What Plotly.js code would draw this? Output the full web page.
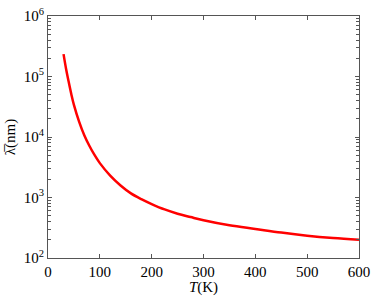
<!DOCTYPE html>
<html><head><meta charset="utf-8">
<script src="https://cdn.plot.ly/plotly-3.0.1.min.js"></script>
<style>html,body{margin:0;padding:0;background:#fff}#c{width:374px;height:296px}</style>
</head><body><div id="c"></div>
<script>
const temperature = [30, 35, 40, 45, 50, 60, 70, 80, 90, 100, 120, 140, 160, 180, 200, 225, 250, 275, 300, 350, 400, 450, 500, 550, 600];
const lambdaNm = [234000, 132000, 81000, 51000, 34000, 18000, 10700, 7100, 5000, 3700, 2300, 1580, 1170, 940, 780, 635, 540, 475, 420, 347, 302, 263, 234, 214, 200];
const yTickVals = [100, 1000, 10000, 100000, 1000000];
const yTickText = ['10<sup>2</sup>', '10<sup>3</sup>', '10<sup>4</sup>', '10<sup>5</sup>', '10<sup>6</sup>'];
const xTickVals = [0, 100, 200, 300, 400, 500, 600];

const FAM = 'Liberation Serif, Times New Roman, serif';
const font = {family: FAM, size: 15, color: '#000'};
Plotly.newPlot('c', [{
  x: temperature, y: lambdaNm, type: 'scatter', mode: 'lines',
  line: {color: '#ff0000', width: 2.5, shape: 'spline', smoothing: 1}
}], {
  width: 374, height: 296,
  margin: {l: 47.5, r: 15, t: 16, b: 38},
  paper_bgcolor: '#fff', plot_bgcolor: '#fff',
  font: font, showlegend: false,
  xaxis: {
    range: [0, 600], tickvals: xTickVals,
    ticks: 'inside', ticklen: 4, tickcolor: '#555', mirror: 'ticks',
    showline: true, linecolor: '#555', linewidth: 1, showgrid: false, zeroline: false,
    tickfont: font,
    title: {text: '<i>T</i>(K)', font: font, standoff: 0}
  },
  yaxis: {
    type: 'log', range: [2, 6], tickvals: yTickVals, ticktext: yTickText,
    ticks: 'inside', ticklen: 4, tickcolor: '#555', mirror: 'ticks',
    minor: {ticks: 'inside', ticklen: 3, tickcolor: '#555', dtick: 'D1', showgrid: false},
    showline: true, linecolor: '#555', linewidth: 1, showgrid: false, zeroline: false,
    tickfont: font,
    title: {text: 'λ\u0305(nm)', font: font, standoff: 4}
  }
}, {staticPlot: true, displayModeBar: false}).then(function (gd) {
  gd.querySelectorAll('text').forEach(function (t) {
    var fs = parseFloat(t.style.fontSize) || 15;
    t.style.removeProperty('font-family');
    t.style.removeProperty('font-size');
    t.setAttribute('font-family', FAM);
    t.setAttribute('font-size', String(fs));
  });
});
</script></body></html>
